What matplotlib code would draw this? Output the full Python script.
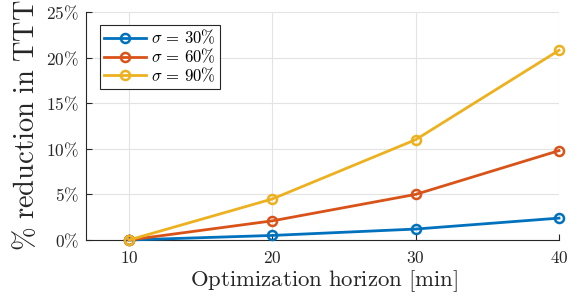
import matplotlib
matplotlib.use("Agg")
import matplotlib.pyplot as plt
import numpy as np

plt.rcParams['mathtext.fontset'] = 'cm'
plt.rcParams['font.family'] = 'serif'

horizon = [10, 20, 30, 40]
sigma30 = [0.0, 0.5, 1.2, 2.4]
sigma60 = [0.0, 2.1, 5.0, 9.8]
sigma90 = [0.0, 4.5, 11.0, 20.8]
labels = [r'$\sigma\,=\,30\%$', r'$\sigma\,=\,60\%$', r'$\sigma\,=\,90\%$']
colors = ['#0072BD', '#D95319', '#EDB120']
yticks = [0, 5, 10, 15, 20, 25]

fig = plt.figure(figsize=(5.85, 2.99), dpi=100)
ax = fig.add_axes([86/585, 59/299, (559-86)/585, (240-12)/299])

for vals, lab, c in zip([sigma30, sigma60, sigma90], labels, colors):
    ax.plot(horizon, vals, color=c, lw=2, marker='o', ms=6.5, mfc='none',
            mew=1.8, label=lab, clip_on=False, zorder=3)

ax.set_xlim(7, 40)
ax.set_ylim(0, 25)
ax.set_xticks(horizon)
ax.set_xticklabels([r'$%d$' % h for h in horizon])
ax.set_yticks(yticks)
ax.set_yticklabels([r'$%d\%%$' % y for y in yticks])
ax.grid(True, color='#e3e3e3', lw=0.8)
ax.set_axisbelow(True)
for s in ['top', 'right']:
    ax.spines[s].set_visible(False)
for s in ['left', 'bottom']:
    ax.spines[s].set_color('#262626')
    ax.spines[s].set_linewidth(0.8)
ax.tick_params(direction='in', length=4, width=0.8, color='#262626',
               labelsize=12.5, labelcolor='#262626')
ax.tick_params(axis='y', pad=5)
ax.tick_params(axis='x', pad=7.5)

fig.text(324/585, 1 - 281/299, r'$\mathrm{Optimization\ horizon\ [min]}$',
         fontsize=16.4, color='#262626', ha='center', va='center')
fig.text(26/585, 1 - 125/299, r'$\%\ \mathrm{reduction\ in\ TTT}$',
         fontsize=20.5, color='#262626', ha='center', va='center', rotation=90)

leg = ax.legend(loc='upper left', bbox_to_anchor=(14/473, 1 - 13/228), borderaxespad=0,
                fontsize=12, frameon=True, fancybox=False, edgecolor='#262626', framealpha=1,
                handlelength=2.5, borderpad=0.25, labelspacing=0.02, handletextpad=0.3)
leg.get_frame().set_linewidth(0.8)

fig.savefig('out.png', dpi=100)
